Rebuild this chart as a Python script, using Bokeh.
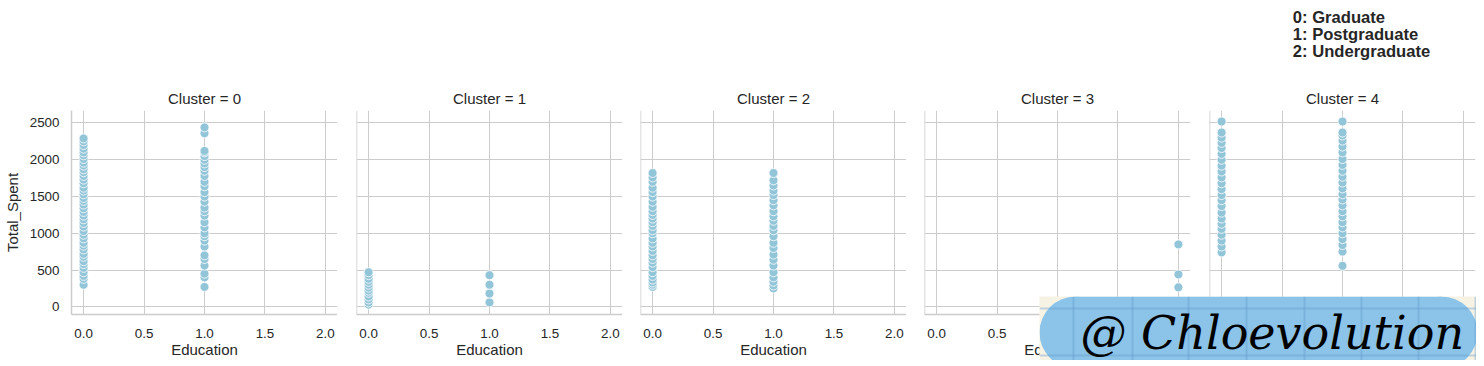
from bokeh.plotting import figure
from bokeh.layouts import row, column
from bokeh.models import FixedTicker, NumeralTickFormatter, Label, Range1d, Span
from bokeh.embed import file_html
from bokeh.resources import INLINE

# ---------------- data ----------------
cluster_ids = [0, 1, 2, 3, 4]
legend_lines = ["0: Graduate", "1: Postgraduate", "2: Undergraduate"]
x_ticks = [0, 0.5, 1, 1.5, 2]
y_ticks = [0, 500, 1000, 1500, 2000, 2500]

c0_edu0 = [300, 380, 420, 470, 530, 580, 620, 680, 720, 780, 830, 870, 930, 980, 1030,
           1090, 1140, 1190, 1240, 1290, 1340, 1390, 1440, 1480, 1530, 1580, 1620, 1680,
           1730, 1780, 1830, 1870, 1920, 1960, 2010, 2060, 2100, 2150, 2200, 2250, 2290]
c0_edu1 = [270, 400, 450, 560, 650, 700, 820, 900, 960, 1000, 1080, 1150, 1240, 1300,
           1350, 1430, 1500, 1560, 1640, 1700, 1780, 1850, 1900, 1950, 2000, 2050, 2100,
           2120, 2360, 2440]
c1_edu0 = [30, 60, 100, 140, 190, 220, 260, 300, 340, 380, 430, 470]
c1_edu1 = [60, 180, 300, 430]
c2_edu0 = [270, 300, 330, 370, 420, 470, 540, 600, 650, 700, 760, 820, 870, 930, 1000,
           1040, 1100, 1150, 1200, 1250, 1300, 1360, 1430, 1500, 1560, 1620, 1700, 1760, 1820]
c2_edu1 = [250, 290, 340, 400, 470, 560, 640, 710, 800, 870, 960, 1040, 1100, 1170, 1230,
           1300, 1380, 1450, 1520, 1580, 1650, 1720, 1820]
c3_edu2 = [264, 440, 848]
c4_edu0 = [740, 820, 900, 980, 1060, 1130, 1200, 1280, 1370, 1450, 1520, 1600, 1680, 1760,
           1840, 1920, 2000, 2080, 2160, 2230, 2300, 2370, 2520]
c4_edu1 = [557, 750, 840, 920, 1000, 1080, 1150, 1230, 1300, 1380, 1460, 1530, 1610, 1690,
           1770, 1850, 1930, 2010, 2100, 2180, 2260, 2330, 2370, 2520]

cluster_points = {
    0: [(0, c0_edu0), (1, c0_edu1)],
    1: [(0, c1_edu0), (1, c1_edu1)],
    2: [(0, c2_edu0), (1, c2_edu1)],
    3: [(2, c3_edu2)],
    4: [(0, c4_edu0), (1, c4_edu1)],
}

# ---------------- style ----------------
FONT = "Liberation Sans"
TXT = "#262626"
GRID = "#cccccc"
PT = "#93c5d9"

left_borders = [70, 19, 18, 18, 19]
figs = []
for i, k in enumerate(cluster_ids):
    p = figure(frame_width=266, frame_height=204,
               x_range=Range1d(-0.1, 2.1), y_range=Range1d(-105, 2670),
               output_backend="svg", toolbar_location=None,
               min_border_left=left_borders[i], min_border_right=2 if i == 4 else 0,
               min_border_top=110, min_border_bottom=44,
               title=f"Cluster = {k}")
    p.title.align = "center"
    p.title.text_font = FONT
    p.title.text_font_size = "15px"
    p.title.text_font_style = "normal"
    p.title.text_color = TXT
    p.title.standoff = 7
    p.outline_line_color = None
    p.background_fill_color = "white"
    p.border_fill_color = "white"

    p.xaxis.ticker = FixedTicker(ticks=x_ticks)
    p.xaxis.formatter = NumeralTickFormatter(format="0.0")
    p.xaxis.axis_label = "Education"
    p.xaxis.axis_line_color = GRID
    p.xaxis.axis_line_width = 1.5
    p.xaxis.major_tick_line_color = None
    p.xaxis.minor_tick_line_color = None
    p.xaxis.major_label_text_font = FONT
    p.xaxis.major_label_text_font_size = "13.4px"
    p.xaxis.major_label_text_color = TXT
    p.xaxis.major_label_standoff = 8
    p.xaxis.axis_label_text_font = FONT
    p.xaxis.axis_label_text_font_size = "15px"
    p.xaxis.axis_label_text_font_style = "normal"
    p.xaxis.axis_label_text_color = TXT
    p.xaxis.axis_label_standoff = 0

    if i == 0:
        p.yaxis.ticker = FixedTicker(ticks=y_ticks)
        p.yaxis.axis_label = "Total_Spent"
        p.yaxis.axis_line_color = GRID
        p.yaxis.axis_line_width = 1.5
        p.yaxis.major_tick_line_color = None
        p.yaxis.minor_tick_line_color = None
        p.yaxis.major_label_text_font = FONT
        p.yaxis.major_label_text_font_size = "13.4px"
        p.yaxis.major_label_text_color = TXT
        p.yaxis.major_label_standoff = 6
        p.yaxis.axis_label_text_font = FONT
        p.yaxis.axis_label_text_font_size = "15px"
        p.yaxis.axis_label_text_font_style = "normal"
        p.yaxis.axis_label_text_color = TXT
        p.yaxis.axis_label_standoff = 6
    else:
        p.yaxis.visible = False
        p.add_layout(Span(location=-0.1, dimension="height", line_color=GRID, line_width=1.5))

    p.xgrid.ticker = FixedTicker(ticks=x_ticks)
    p.ygrid.ticker = FixedTicker(ticks=y_ticks)
    p.grid.grid_line_color = GRID
    p.grid.grid_line_width = 1

    for edu, vals in cluster_points[k]:
        p.scatter([edu] * len(vals), vals, size=9, fill_color=PT,
                  line_color="white", line_width=0.8)
    figs.append(p)

# ---------------- legend text block (top right) ----------------
lg = figure(width=191, height=66, x_range=Range1d(0, 1), y_range=Range1d(0, 1),
            output_backend="svg", toolbar_location=None, x_axis_type=None, y_axis_type=None,
            min_border=0, margin=(-358, 0, 0, 1285))
lg.outline_line_color = None
lg.grid.visible = False
lg.background_fill_color = "white"
lg.border_fill_color = "white"
for j, line in enumerate(legend_lines):
    lg.add_layout(Label(x=7.3, y=51.1 - j * 17.2, x_units="screen", y_units="screen",
                        text=line, text_font=FONT, text_font_size="16.6px",
                        text_font_style="bold", text_color=TXT,
                        text_baseline="alphabetic", text_align="left"))

# ---------------- watermark overlay ----------------
wm = figure(width=437, height=64, x_range=Range1d(0, 437), y_range=Range1d(0, 64),
            output_backend="svg", toolbar_location=None, x_axis_type=None, y_axis_type=None,
            min_border=0, margin=(228, 0, 0, 1039))
wm.outline_line_color = None
wm.grid.visible = False
wm.background_fill_color = "#f6f2e4"
wm.border_fill_color = "#f6f2e4"
wm.quad(left=[36], right=[402], bottom=[-8], top=[64], fill_color="#8cc4e9", line_color=None)
wm.circle(x=[36, 402], y=[28, 28], radius=36, fill_color="#8cc4e9", line_color=None)
wm.segment(x0=[34, 93, 149, 207, 265, 322, 379, 436], y0=[0] * 8,
           x1=[34, 93, 149, 207, 265, 322, 379, 436], y1=[64] * 8,
           line_color="#5b96c8", line_alpha=0.35, line_width=2)
wm.segment(x0=[0, 0], y0=[52, 5], x1=[437, 437], y1=[52, 5],
           line_color="#5b96c8", line_alpha=0.35, line_width=2)
wm.add_layout(Label(x=41, y=28, text="@ Chloevolution", text_font="DejaVu Serif",
                    text_font_size="46px", text_font_style="italic", text_color="black",
                    text_baseline="middle", text_align="left"))

layout = column(row(*figs), lg, wm)
open("out.html", "w").write(file_html(layout, INLINE))
